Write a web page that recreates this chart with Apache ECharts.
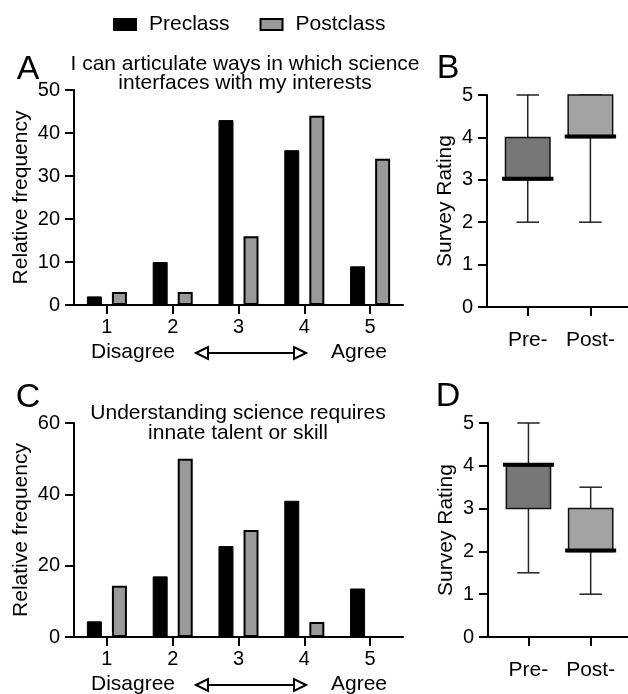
<!DOCTYPE html>
<html>
<head>
<meta charset="utf-8">
<script src="https://cdn.jsdelivr.net/npm/echarts@6/dist/echarts.min.js"></script>
<style>
html,body{margin:0;padding:0;background:#fff;}
#chart{width:628px;height:694px;}
</style>
</head>
<body>
<div id="chart"></div>
<script>
// ---- data ----
const categories = ['1', '2', '3', '4', '5'];
const preA = [2, 10, 43, 36, 9];
const postA = [3, 3, 16, 44, 34];
const preC = [4.4, 17, 25.5, 38.2, 13.6];
const postC = [14.4, 50, 30, 4.2, 0];
const boxGroups = ['Pre-', 'Post-'];
// [min, q1, median, q3, max]
const boxB = [[2, 3, 3, 4, 5], [2, 4, 4, 5, 5]];
const boxD = [[1.5, 3, 4, 4, 5], [1, 2, 2, 3, 3.5]];
const titleA = ['I can articulate ways in which science', 'interfaces with my interests'];
const titleC = ['Understanding science requires', 'innate talent or skill'];

// ---- styles ----
const FONT = 'Liberation Sans, Arial, Helvetica, sans-serif';
const TXT = 21;
const NUM = 20;
const boxColors = ['#777777', '#a3a3a3'];
const axisLine = { lineStyle: { color: '#000', width: 2 } };
const axisTick = { show: true, length: 9, lineStyle: { color: '#000', width: 2 } };
const numLbl = { color: '#000', fontSize: NUM, fontFamily: FONT };
const txtLbl = { color: '#000', fontSize: TXT, fontFamily: FONT };

function boxData(arr) {
  return arr.map((d, i) => [i + 1, d[0], d[1], d[2], d[3], d[4]]);
}

function renderBox(params, api) {
  const x = api.value(0);
  const mn = api.value(1), q1 = api.value(2), md = api.value(3), q3 = api.value(4), mx = api.value(5);
  const unit = api.size([1, 0])[0];
  const bh = unit * 0.355, mh = unit * 0.41, ch = unit * 0.18;
  const pMin = api.coord([x, mn]), pQ1 = api.coord([x, q1]), pMd = api.coord([x, md]);
  const pQ3 = api.coord([x, q3]), pMax = api.coord([x, mx]);
  const cx = pMin[0];
  const ls = { stroke: '#222', lineWidth: 1.5 };
  return {
    type: 'group',
    children: [
      { type: 'line', shape: { x1: cx, y1: pMin[1], x2: cx, y2: pQ1[1] }, style: ls },
      { type: 'line', shape: { x1: cx, y1: pQ3[1], x2: cx, y2: pMax[1] }, style: ls },
      { type: 'line', shape: { x1: cx - ch, y1: pMin[1], x2: cx + ch, y2: pMin[1] }, style: ls },
      { type: 'line', shape: { x1: cx - ch, y1: pMax[1], x2: cx + ch, y2: pMax[1] }, style: ls },
      { type: 'rect', shape: { x: cx - bh, y: pQ3[1], width: bh * 2, height: pQ1[1] - pQ3[1] },
        style: { fill: boxColors[params.dataIndex], stroke: '#111', lineWidth: 1.5 } },
      { type: 'line', shape: { x1: cx - mh, y1: pMd[1] - 1, x2: cx + mh, y2: pMd[1] - 1 },
        style: { stroke: '#000', lineWidth: 4 } }
    ]
  };
}

function catAxis(gi) {
  return {
    type: 'category', gridIndex: gi, data: categories,
    axisLine: axisLine, axisTick: Object.assign({ alignWithLabel: true }, axisTick),
    axisLabel: Object.assign({ margin: 12 }, numLbl), splitLine: { show: false }
  };
}
function boxXAxis(gi) {
  return {
    type: 'value', gridIndex: gi, min: 0.35, max: 2.6,
    axisLine: axisLine,
    axisTick: Object.assign({ customValues: [1, 2] }, axisTick),
    axisLabel: Object.assign({ customValues: [1, 2], margin: 23,
      formatter: v => boxGroups[Math.round(v) - 1] || '' }, txtLbl),
    splitLine: { show: false }
  };
}
function valAxis(gi, max, interval, name, gap) {
  return {
    type: 'value', gridIndex: gi, min: 0, max: max, interval: interval,
    name: name, nameLocation: 'middle', nameGap: gap, nameMoveOverlap: false,
    nameTextStyle: { color: '#000', fontSize: TXT, fontFamily: FONT },
    axisLine: Object.assign({ show: true }, axisLine), axisTick: axisTick,
    axisLabel: Object.assign({ margin: 14 }, numLbl), splitLine: { show: false }
  };
}

function arrowGraphics(y) {
  return [
    { type: 'text', left: 91, top: y - 11, style: { text: 'Disagree', fill: '#000', font: TXT + 'px ' + FONT } },
    { type: 'text', left: 331, top: y - 11, style: { text: 'Agree', fill: '#000', font: TXT + 'px ' + FONT } },
    { type: 'line', shape: { x1: 207, y1: y, x2: 295, y2: y }, style: { stroke: '#000', lineWidth: 2 } },
    { type: 'polygon', shape: { points: [[196, y], [208, y - 6], [208, y + 6]] }, style: { fill: '#fff', stroke: '#000', lineWidth: 2 } },
    { type: 'polygon', shape: { points: [[306, y], [294, y - 6], [294, y + 6]] }, style: { fill: '#fff', stroke: '#000', lineWidth: 2 } }
  ];
}

const chart = echarts.init(document.getElementById('chart'), null, { renderer: 'canvas' });
const ttl = (text, left, top, size, lh) => ({
  text: text, left: left, top: top, textAlign: 'center', padding: 0,
  textStyle: { color: '#000', fontSize: size, fontWeight: 'normal', fontFamily: FONT, lineHeight: lh }
});

chart.setOption({
  animation: false,
  backgroundColor: '#fff',
  textStyle: { fontFamily: FONT },
  title: [
    ttl(titleA.join('\n'), 245, 55, TXT, 19),
    ttl(titleC.join('\n'), 238, 403, TXT, 20),
    ttl('A', 28, 53, 34, 34),
    ttl('C', 28, 381, 34, 34),
    ttl('B', 448, 52, 34, 34),
    ttl('D', 448, 380, 34, 34)
  ],
  legend: {
    data: ['Preclass', 'Postclass'], left: 113, top: 14, padding: 0,
    itemWidth: 22, itemHeight: 11, itemGap: 30, icon: 'rect',
    textStyle: { color: '#000', fontSize: TXT, fontFamily: FONT, padding: [0, 0, 0, 8] }
  },
  grid: [
    { left: 74, top: 90, width: 329, height: 215 },
    { left: 74, top: 423, width: 329, height: 214 },
    { left: 487, top: 95, width: 141, height: 212 },
    { left: 488, top: 423, width: 140, height: 214 }
  ],
  xAxis: [catAxis(0), catAxis(1), boxXAxis(2), boxXAxis(3)],
  yAxis: [
    valAxis(0, 50, 10, 'Relative frequency', 42),
    valAxis(1, 60, 20, 'Relative frequency', 42),
    valAxis(2, 5, 1, 'Survey Rating', 31),
    valAxis(3, 5, 1, 'Survey Rating', 31)
  ],
  series: [
    { name: 'Preclass', type: 'bar', xAxisIndex: 0, yAxisIndex: 0, data: preA, barWidth: 15, barGap: '67%',
      itemStyle: { color: '#000', borderColor: '#000', borderWidth: 1 } },
    { name: 'Postclass', type: 'bar', xAxisIndex: 0, yAxisIndex: 0, data: postA, barWidth: 15, barGap: '67%',
      itemStyle: { color: '#999999', borderColor: '#000', borderWidth: 2 } },
    { name: 'Preclass', type: 'bar', xAxisIndex: 1, yAxisIndex: 1, data: preC, barWidth: 15, barGap: '67%',
      itemStyle: { color: '#000', borderColor: '#000', borderWidth: 1 } },
    { name: 'Postclass', type: 'bar', xAxisIndex: 1, yAxisIndex: 1, data: postC, barWidth: 15, barGap: '67%',
      itemStyle: { color: '#999999', borderColor: '#000', borderWidth: 2 } },
    { type: 'custom', xAxisIndex: 2, yAxisIndex: 2, data: boxData(boxB), renderItem: renderBox,
      encode: { x: 0, y: [1, 2, 3, 4, 5] } },
    { type: 'custom', xAxisIndex: 3, yAxisIndex: 3, data: boxData(boxD), renderItem: renderBox,
      encode: { x: 0, y: [1, 2, 3, 4, 5] } }
  ],
  graphic: arrowGraphics(353).concat(arrowGraphics(685))
});
</script>
</body>
</html>
